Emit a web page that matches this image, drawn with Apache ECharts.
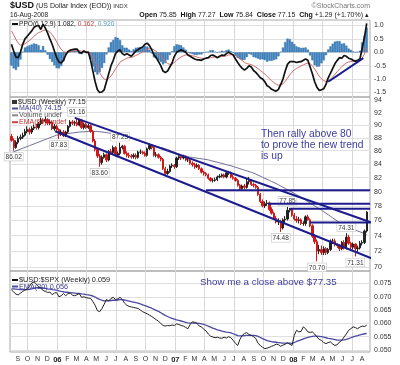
<!DOCTYPE html>
<html><head><meta charset="utf-8">
<script src="https://cdn.jsdelivr.net/npm/echarts@6/dist/echarts.min.js"></script>
<style>html,body{margin:0;padding:0;background:#fff}#c{width:400px;height:365px}</style>
</head><body><div id="c"></div>
<script>
// ---- weekly data, week 0 = 12-Aug-2005 ----
const closes = [87.6,86.5,87.3,87.9,88.1,88.4,89.0,89.3,88.9,89.5,
89.7,89.6,90.2,90.8,90.6,90.9,90.3,90.5,89.4,89.8,
89.3,88.6,88.9,88.3,88.9,89.8,90.5,90.3,90.4,90.0,
90.8,89.6,90.1,89.6,89.9,89.0,87.5,86.2,85.2,84.2,
85.0,85.4,84.6,85.9,85.7,86.5,85.3,85.6,86.5,86.7,
85.6,85.3,85.2,85.1,85.3,85.0,85.8,85.8,85.6,85.3,
86.3,86.8,86.5,85.3,85.4,85.0,84.7,83.3,82.6,82.9,
83.7,83.8,83.6,84.9,85.1,84.9,85.2,84.6,84.6,84.1,
83.9,83.6,83.8,83.3,82.8,82.6,82.4,81.9,81.6,81.6,
81.7,82.1,82.2,82.4,82.1,82.7,82.7,82.1,81.9,81.6,
80.9,80.4,80.8,80.6,81.4,81.6,81.0,80.9,80.6,79.6,
78.6,78.0,78.3,78.4,77.5,77.0,76.3,75.8,75.9,75.0,
76.1,76.2,77.4,77.5,76.7,76.2,76.0,76.1,75.6,75.6,
76.5,76.1,75.3,73.9,73.2,72.0,72.2,71.8,72.3,71.8,
72.2,73.3,73.3,72.8,72.7,72.3,73.1,72.4,73.8,73.0,
72.5,72.9,72.3,72.4,73.0,73.1,74.6,77.15];
const opens = [88.2,87.6,86.5,87.3,87.9,88.1,88.4,89.0,89.3,88.9,
89.5,89.7,89.6,90.2,90.8,90.6,90.9,90.3,90.5,89.4,
89.8,89.3,88.6,88.9,88.3,88.9,89.8,90.5,90.3,90.4,
90.0,90.8,89.6,90.1,89.6,89.9,89.0,87.5,86.2,85.2,
84.2,85.0,85.4,84.6,85.9,85.7,86.5,85.3,85.6,86.5,
86.7,85.6,85.3,85.2,85.1,85.3,85.0,85.8,85.8,85.6,
85.3,86.3,86.8,86.5,85.3,85.4,85.0,84.7,83.3,82.6,
82.9,83.7,83.8,83.6,84.9,85.1,84.9,85.2,84.6,84.6,
84.1,83.9,83.6,83.8,83.3,82.8,82.6,82.4,81.9,81.6,
81.6,81.7,82.1,82.2,82.4,82.1,82.7,82.7,82.1,81.9,
81.6,80.9,80.4,80.8,80.6,81.4,81.6,81.0,80.9,80.6,
79.6,78.6,78.0,78.3,78.4,77.5,77.0,76.3,75.8,75.9,
75.0,76.1,76.2,77.4,77.5,76.7,76.2,76.0,76.1,75.6,
75.6,76.5,76.1,75.3,73.9,73.2,72.0,72.2,71.8,72.3,
71.8,72.2,73.3,73.3,72.8,72.7,72.3,73.1,72.4,73.8,
73.0,72.5,72.9,72.3,72.4,73.0,73.1,74.6];
const highs = [88.6,87.9,87.6,88.3,88.5,88.8,89.4,89.8,89.6,89.8,
90.1,90.2,90.5,91.2,91.1,91.3,91.1,90.9,90.7,90.2,
90.1,89.5,89.3,89.2,89.1,90.0,90.8,90.8,90.7,91.16,
91.0,91.0,90.4,90.4,90.2,90.1,89.2,87.8,86.4,85.5,
85.3,85.7,85.6,86.1,86.3,86.8,86.7,85.9,87.23,86.9,
86.9,85.9,85.7,85.5,85.6,85.6,86.0,86.2,86.0,85.9,
86.5,87.1,87.0,86.7,85.8,85.6,85.2,84.9,83.6,83.3,
83.9,84.1,84.0,85.1,85.4,85.3,85.4,85.3,84.9,84.8,
84.4,84.2,84.1,84.0,83.5,83.0,82.8,82.6,82.1,81.9,
82.0,82.3,82.5,82.6,82.6,82.9,83.0,82.9,82.4,82.1,
81.8,81.1,81.0,81.1,81.9,82.1,81.8,81.3,81.1,80.8,
79.8,78.9,78.6,78.8,78.6,77.8,77.2,76.6,76.3,76.1,
76.3,76.6,77.85,77.7,77.7,77.0,76.6,76.5,76.3,75.9,
76.7,76.8,76.3,75.5,74.2,73.5,72.8,72.7,72.6,72.5,
72.4,73.5,73.6,73.6,73.0,72.9,73.3,73.4,74.31,74.1,
73.2,73.1,73.0,72.7,73.3,73.4,74.8,77.27];
const lows = [87.4,86.02,86.3,87.0,87.6,87.8,88.2,88.7,88.5,88.6,
89.2,89.3,89.3,90.0,90.2,90.3,90.0,90.0,89.2,89.1,
89.0,87.83,88.3,88.1,88.1,88.7,89.6,90.0,89.9,89.8,
89.8,89.4,89.3,89.4,89.4,88.8,87.3,85.9,84.9,83.60,
83.9,84.8,84.3,84.4,85.4,85.4,85.1,85.0,85.3,86.2,
85.4,85.0,84.9,84.8,84.8,84.7,84.8,85.5,85.4,85.1,
85.1,86.1,86.2,85.1,85.0,84.8,84.4,83.1,82.4,82.4,
82.7,83.4,83.3,83.4,84.6,84.6,84.7,84.4,84.3,83.9,
83.6,83.3,83.4,83.1,82.6,82.3,82.2,81.7,81.4,81.3,
81.4,81.5,81.9,82.0,81.9,81.9,82.4,81.9,81.7,81.4,
80.7,80.1,80.2,80.3,80.4,81.0,80.8,80.6,80.4,79.4,
78.4,77.8,77.7,78.0,77.3,76.8,76.1,75.6,75.4,74.48,
74.8,75.6,76.0,77.1,76.5,76.0,75.7,75.6,75.4,75.3,
75.3,76.0,75.1,73.7,72.9,70.70,71.6,71.5,71.5,71.5,
71.6,72.0,72.9,72.6,72.4,72.0,72.1,72.2,72.2,72.8,
72.2,72.2,71.31,71.9,72.2,72.7,72.9,74.4];
const ma40 = [85.7,85.83,85.97,86.1,86.24,86.38,86.51,86.65,86.78,86.92,
87.05,87.19,87.32,87.46,87.6,87.73,87.87,88.0,88.14,88.27,
88.4,88.45,88.5,88.55,88.6,88.65,88.7,88.75,88.8,88.85,
88.9,88.92,88.94,88.96,88.98,89.0,89.0,89.0,88.98,88.95,
88.9,88.85,88.8,88.74,88.68,88.63,88.58,88.53,88.4,88.3,
88.2,88.1,88.0,87.9,87.8,87.65,87.55,87.42,87.3,87.2,
87.1,87.0,86.9,86.8,86.7,86.6,86.5,86.43,86.3,86.2,
86.05,85.9,85.8,85.65,85.5,85.4,85.25,85.13,85.08,85.03,
84.98,84.93,84.88,84.83,84.78,84.73,84.67,84.62,84.53,84.44,
84.35,84.26,84.18,84.09,84.0,83.91,83.82,83.74,83.63,83.52,
83.42,83.31,83.2,83.1,82.99,82.88,82.78,82.67,82.52,82.36,
82.21,82.06,81.9,81.75,81.6,81.44,81.29,81.14,80.96,80.79,
80.61,80.44,80.26,80.09,79.91,79.74,79.56,79.39,79.19,78.99,
78.8,78.6,78.4,78.2,78.0,77.8,77.61,77.41,77.2,76.99,
76.78,76.56,76.35,76.14,75.93,75.72,75.5,75.29,75.18,75.06,
74.95,74.84,74.72,74.61,74.5,74.38,74.27,74.15];
const ppo = [0.30,0.05,-0.18,-0.20,0.00,0.30,0.50,0.60,0.70,0.80,
0.93,0.98,1.00,0.85,1.05,0.90,0.72,0.50,0.30,0.05,
-0.20,-0.36,-0.40,-0.30,-0.10,0.03,0.08,0.10,0.12,0.12,
0.00,-0.03,0.05,0.00,0.00,-0.30,-0.70,-1.10,-1.40,-1.50,
-1.48,-1.40,-1.10,-0.80,-0.50,-0.30,-0.05,0.05,0.09,-0.05,
-0.10,-0.05,-0.10,-0.15,-0.05,0.05,0.10,0.16,0.20,0.30,
0.34,0.25,0.10,-0.10,-0.20,-0.35,-0.50,-0.70,-0.75,-0.70,
-0.55,-0.40,-0.15,0.00,0.05,0.09,0.05,0.00,-0.10,-0.15,
-0.20,-0.25,-0.28,-0.28,-0.30,-0.25,-0.22,-0.20,-0.12,-0.10,
-0.15,-0.20,-0.15,-0.10,-0.12,-0.05,0.00,-0.05,-0.10,-0.25,
-0.38,-0.50,-0.60,-0.66,-0.60,-0.50,-0.55,-0.68,-0.75,-0.85,
-0.95,-1.00,-1.10,-1.25,-1.30,-1.38,-1.42,-1.45,-1.38,-1.20,
-1.00,-0.70,-0.45,-0.35,-0.35,-0.35,-0.38,-0.36,-0.35,-0.30,
-0.25,-0.30,-0.55,-0.80,-1.10,-1.30,-1.42,-1.40,-1.36,-1.20,
-0.95,-0.78,-0.60,-0.42,-0.30,-0.20,-0.22,-0.12,-0.15,-0.22,
-0.25,-0.30,-0.33,-0.30,-0.25,0.15,0.55,1.082];
const signal = [0.80,0.65,0.48,0.34,0.27,0.28,0.32,0.38,0.44,0.51,
0.60,0.67,0.74,0.76,0.82,0.83,0.81,0.75,0.66,0.54,
0.39,0.24,0.11,0.03,0.00,0.01,0.02,0.04,0.06,0.07,
0.06,0.04,0.04,0.03,0.02,-0.04,-0.17,-0.36,-0.57,-0.76,
-0.90,-1.00,-1.02,-0.98,-0.88,-0.76,-0.62,-0.49,-0.37,-0.31,
-0.27,-0.22,-0.20,-0.19,-0.16,-0.12,-0.08,-0.03,0.02,0.07,
0.13,0.15,0.14,0.09,0.03,-0.05,-0.14,-0.25,-0.35,-0.42,
-0.45,-0.44,-0.38,-0.30,-0.23,-0.17,-0.13,-0.10,-0.10,-0.11,
-0.13,-0.15,-0.18,-0.20,-0.22,-0.23,-0.23,-0.22,-0.20,-0.18,
-0.17,-0.18,-0.17,-0.16,-0.15,-0.13,-0.10,-0.09,-0.09,-0.12,
-0.17,-0.24,-0.31,-0.38,-0.42,-0.44,-0.46,-0.50,-0.55,-0.61,
-0.68,-0.74,-0.81,-0.90,-0.98,-1.06,-1.13,-1.19,-1.23,-1.22,
-1.18,-1.08,-0.96,-0.84,-0.74,-0.66,-0.60,-0.55,-0.51,-0.47,
-0.43,-0.40,-0.43,-0.50,-0.62,-0.76,-0.89,-0.99,-1.06,-1.09,
-1.06,-1.00,-0.92,-0.82,-0.72,-0.62,-0.54,-0.46,-0.40,-0.36,
-0.34,-0.33,-0.33,-0.32,-0.31,-0.22,-0.07,0.162];
const histo = [-0.50,-0.60,-0.66,-0.54,-0.27,0.02,0.18,0.22,0.26,0.29,
0.33,0.31,0.26,0.09,0.23,0.07,-0.09,-0.25,-0.36,-0.49,
-0.59,-0.60,-0.51,-0.33,-0.10,0.02,0.06,0.06,0.06,0.05,
-0.06,-0.07,0.01,-0.03,-0.02,-0.26,-0.53,-0.74,-0.83,-0.74,
-0.58,-0.40,-0.08,0.18,0.38,0.46,0.57,0.54,0.46,0.26,
0.17,0.17,0.10,0.04,0.11,0.17,0.18,0.19,0.18,0.23,
0.21,0.10,-0.04,-0.19,-0.23,-0.30,-0.36,-0.45,-0.40,-0.28,
-0.10,0.04,0.23,0.30,0.28,0.26,0.18,0.10,0.00,-0.04,
-0.07,-0.10,-0.10,-0.08,-0.08,-0.02,0.01,0.02,0.08,0.08,
0.02,-0.02,0.02,0.06,0.03,0.08,0.10,0.04,-0.01,-0.13,
-0.21,-0.26,-0.29,-0.28,-0.18,-0.06,-0.09,-0.18,-0.20,-0.24,
-0.27,-0.26,-0.29,-0.35,-0.32,-0.32,-0.29,-0.26,-0.15,0.02,
0.18,0.38,0.51,0.49,0.39,0.31,0.22,0.19,0.16,0.17,
0.18,0.10,-0.12,-0.30,-0.48,-0.54,-0.53,-0.41,-0.30,-0.11,
0.11,0.22,0.32,0.40,0.42,0.42,0.32,0.34,0.25,0.14,
0.09,0.03,0.00,0.02,0.06,0.37,0.62,0.920];
const ratio = [0.0726,0.0718,0.0710,0.0707,0.0714,0.0720,0.0726,0.0728,0.0740,0.0752,
0.0756,0.0748,0.0738,0.0732,0.0724,0.0720,0.0716,0.0718,0.0708,0.0714,
0.0716,0.0700,0.0704,0.0712,0.0704,0.0712,0.0714,0.0706,0.0704,0.0708,
0.0712,0.0698,0.0700,0.0697,0.0695,0.0694,0.0682,0.0668,0.0648,0.0644,
0.0656,0.0672,0.0690,0.0684,0.0694,0.0698,0.0690,0.0692,0.0698,0.0690,
0.0676,0.0668,0.0664,0.0662,0.0660,0.0658,0.0656,0.0650,0.0644,0.0640,
0.0636,0.0631,0.0626,0.0620,0.0614,0.0608,0.0600,0.0592,0.0590,0.0592,
0.0591,0.0594,0.0592,0.0598,0.0596,0.0592,0.0590,0.0585,0.0580,0.0596,
0.0606,0.0604,0.0600,0.0590,0.0587,0.0578,0.0572,0.0560,0.0552,0.0549,
0.0546,0.0548,0.0545,0.0544,0.0548,0.0545,0.0550,0.0546,0.0536,0.0525,
0.0517,0.0540,0.0555,0.0562,0.0565,0.0558,0.0555,0.0550,0.0543,0.0525,
0.0517,0.0510,0.0505,0.0507,0.0510,0.0514,0.0517,0.0522,0.0520,0.0514,
0.0518,0.0522,0.0527,0.0522,0.0517,0.0555,0.0574,0.0568,0.0570,0.0587,
0.0580,0.0568,0.0566,0.0568,0.0560,0.0549,0.0540,0.0536,0.0528,0.0524,
0.0528,0.0530,0.0522,0.0517,0.0520,0.0530,0.0536,0.0549,0.0560,0.0574,
0.0580,0.0587,0.0584,0.0580,0.0586,0.0590,0.0588,0.0593];
const ratioEma = [0.0730,0.0730,0.0729,0.0728,0.0727,0.0727,0.0727,0.0727,0.0728,0.0730,
0.0732,0.0734,0.0734,0.0734,0.0733,0.0732,0.0730,0.0729,0.0727,0.0726,
0.0725,0.0722,0.0720,0.0719,0.0717,0.0717,0.0716,0.0715,0.0714,0.0713,
0.0713,0.0711,0.0710,0.0708,0.0707,0.0705,0.0703,0.0699,0.0694,0.0690,
0.0687,0.0685,0.0685,0.0685,0.0686,0.0687,0.0687,0.0688,0.0689,0.0689,
0.0688,0.0686,0.0684,0.0682,0.0680,0.0678,0.0676,0.0673,0.0670,0.0667,
0.0664,0.0660,0.0657,0.0653,0.0649,0.0645,0.0640,0.0635,0.0630,0.0626,
0.0622,0.0619,0.0616,0.0613,0.0611,0.0609,0.0607,0.0604,0.0602,0.0601,
0.0601,0.0601,0.0601,0.0600,0.0598,0.0596,0.0593,0.0590,0.0586,0.0582,
0.0579,0.0576,0.0574,0.0571,0.0569,0.0567,0.0566,0.0564,0.0561,0.0558,
0.0554,0.0553,0.0553,0.0554,0.0555,0.0555,0.0555,0.0555,0.0554,0.0551,
0.0547,0.0543,0.0539,0.0535,0.0533,0.0531,0.0530,0.0529,0.0528,0.0527,
0.0526,0.0526,0.0526,0.0526,0.0525,0.0528,0.0532,0.0535,0.0538,0.0542,
0.0545,0.0547,0.0549,0.0551,0.0552,0.0552,0.0551,0.0550,0.0548,0.0546,
0.0544,0.0543,0.0541,0.0539,0.0537,0.0537,0.0537,0.0538,0.0540,0.0543,
0.0546,0.0549,0.0552,0.0554,0.0557,0.0559,0.0561,0.0562];
// tick labels
const ppoTicks = [-1.5,-1.0,-0.5,0.0,0.5,1.0];
const priceTicks = [70,72,74,76,78,80,82,84,86,88,90,92,94];
const ratioTicks = [0.050,0.055,0.060,0.065,0.070,0.075];
// hand-drawn annotations: [weekIndex, value]
const upperChannel = [[28,91.16],[171.7,74.4]];
const lowerChannel = [[19.3,89.02],[159.8,71.01]];
const hLines = [[[86,80.2],[158.5,80.2]],[[113.4,78.3],[158.5,78.3]],[[123,77.6],[158.5,77.6]],[[132,75.75],[158.5,75.75]]];
const ppoTrend = [[140,-1.10],[155.5,-0.22]];
const priceMarks = [[1,86.02,'b'],[21,87.83,'b'],[29,91.16,'t'],[39,83.60,'b'],[48,87.23,'t'],[119,74.48,'b'],[122,77.85,'t'],[148,74.31,'t'],[135,70.70,'b'],[152,71.31,'b']];

const DAY = 864e5, start = Date.UTC(2005,7,12);
const t = i => start + i*7*DAY;
const L = Math.log;
const FONT = '"Liberation Sans", Arial, sans-serif';
const xMin = t(-0.62), xMax = t(158.46);
const months = [], quarters = [];
for (let y=2005; y<=2008; y++) for (let m=0; m<12; m++) {
  const v = Date.UTC(y,m,1);
  if (v>xMin && v<xMax) { months.push(v); if (m%3===0) quarters.push(v); }
}
const grids = [
  {left:10, top:20, width:360, height:77},
  {left:10, top:97, width:360, height:174},
  {left:10, top:271, width:360, height:81}
].map(g=>Object.assign(g,{show:true, borderColor:'#a8a8a8', borderWidth:1, containLabel:false}));
const xAxes = [0,1,2].map(k=>({
  type:'value', gridIndex:k, min:xMin, max:xMax, scale:true,
  axisLine:{show:false},
  axisTick:{show:false, customValues:quarters},
  splitLine:{show:true, lineStyle:{color:'#d8d8d8', width:1}},
  axisLabel: k===2 ? {show:true, customValues:months, fontSize:7, color:'#333', fontFamily:FONT, margin:4,
    formatter:v=>{const d=new Date(v), m=d.getUTCMonth(); return m===0?'{y|'+String(d.getUTCFullYear()).slice(2)+'}':'JFMAMJJASOND'[m];},
    rich:{y:{fontWeight:'bold', fontSize:7.5, fontFamily:FONT, color:'#222'}}} : {show:false}
}));
const yBase = (k, min, max, ticks, fmt)=>({
  type:'value', gridIndex:k, position:'right', min, max, scale:true,
  axisLine:{show:false}, axisTick:{show:false, customValues:ticks},
  splitLine:{show:true, lineStyle:{color:'#e0e0e0'}},
  axisLabel:{show:true, customValues:ticks, formatter:fmt, fontSize:7, color:'#333', fontFamily:FONT, margin:4}
});
const yAxes = [
  yBase(0, -1.668, 1.205, ppoTicks, v=>v.toFixed(1)),
  yBase(1, L(69.5), L(94.59), priceTicks.map(L), v=>String(Math.round(Math.exp(v)))),
  yBase(2, 0.04924, 0.0797, ratioTicks, v=>v.toFixed(3))
];
const pair = (arr, f) => arr.map((v,i)=>[t(i), f? f(v):v]);
const trend = (pts, xi, yi, color, w, logy) => ({
  type:'line', xAxisIndex:xi, yAxisIndex:yi, clip:false, silent:true, symbol:'none',
  lineStyle:{color, width:w}, data: pts.map(p=>[t(p[0]), logy?L(p[1]):p[1]]), z:5
});
const candles = closes.map((c,i)=>[t(i), L(opens[i]), L(c), L(lows[i]), L(highs[i])]);
const markData = priceMarks.map(m=>({
  coord:[t(m[0]), L(m[1])], value:m[1].toFixed(2),
  label:{position: m[2]==='b'?'bottom':'top', distance:2}
}));
const series = [
  {type:'bar', xAxisIndex:0, yAxisIndex:0, data:pair(histo), barWidth:2.2,
   itemStyle:{color:'#3f86c6', borderColor:'#2f6aa0', borderWidth:0.4}, silent:true},
  {type:'line', xAxisIndex:0, yAxisIndex:0, data:pair(signal), symbol:'none', lineStyle:{color:'#cf6a6a', width:1}, silent:true},
  {type:'line', xAxisIndex:0, yAxisIndex:0, data:pair(ppo), symbol:'none', lineStyle:{color:'#111', width:1.7}, silent:true},
  trend(ppoTrend, 0, 0, '#1c1c8e', 2, false),
  {type:'line', xAxisIndex:1, yAxisIndex:1, data:pair(ma40, L), symbol:'none', lineStyle:{color:'#6c6c96', width:1}, silent:true,
   markPoint:{symbol:'rect', symbolSize:0, data:markData,
     label:{show:true, formatter:p=>p.value, fontSize:6.5, color:'#333', fontFamily:FONT, backgroundColor:'#fff', borderColor:'#c4c4c4', borderWidth:0.6, padding:[1,1,0,1]}}},
  {type:'candlestick', xAxisIndex:1, yAxisIndex:1, data:candles, encode:{x:0, y:[1,2,3,4]}, barWidth:1.8,
   itemStyle:{color:'#222', color0:'#d01818', borderColor:'#222', borderColor0:'#d01818', borderWidth:1}, silent:true, z:3},
  trend(upperChannel, 1, 1, '#1c1c8e', 2, true),
  trend(lowerChannel, 1, 1, '#1c1c8e', 2, true),
  ...hLines.map(h=>trend(h, 1, 1, '#1c1c8e', 2, true)),
  {type:'line', xAxisIndex:2, yAxisIndex:2, data:pair(ratioEma), symbol:'none', lineStyle:{color:'#4a4aa2', width:1.3}, silent:true},
  {type:'line', xAxisIndex:2, yAxisIndex:2, data:pair(ratio), symbol:'none', lineStyle:{color:'#222', width:1}, silent:true}
];
const F = (s, w)=> (w?w+' ':'')+s+'px '+FONT;
const txt = (x,y,text,opts)=>({type:'text', x, y, silent:true, z:20,
  style:Object.assign({text, font:F(7), fill:'#222', textVerticalAlign:'middle'}, opts||{})});
const sw = (x,y,color)=>({type:'rect', shape:{x, y:y-1, width:6, height:2}, style:{fill:color}, silent:true, z:20});
const graphic = [
  txt(10,6,'{a|$USD} {b|(US Dollar Index (EOD))} {c|INDX}', {rich:{a:{font:F(9,'bold'), fill:'#111'}, b:{font:F(7), fill:'#222'}, c:{font:F(6), fill:'#333'}}}),
  txt(10,15,'16-Aug-2008', {font:F(6.6)}),
  txt(370,6,'\u00A9StockCharts.com', {font:F(7), fill:'#777', textAlign:'right'}),
  txt(369,15,'{k|Open} 75.85  {k|High} 77.27  {k|Low} 75.84  {k|Close} 77.15  {k|Chg} +1.29 (+1.70%) \u25B4',
    {textAlign:'right', font:F(7), rich:{k:{font:F(7,'bold'), fill:'#111'}}}),
  sw(12,24,'#111'),
  txt(19,24,'PPO(6,12,9) 1.082, {r|0.162,} {g|0.920}', {font:F(6.6), rich:{r:{fill:'#c04848', font:F(6.6)}, g:{fill:'#4fa0b8', font:F(6.6)}}}),
  {type:'rect', shape:{x:12, y:100, width:5, height:4}, style:{fill:'#333'}, silent:true, z:20},
  txt(18,102,'$USD (Weekly) 77.15'),
  sw(12,108.5,'#4a4a9a'), txt(19,108.5,'MA(40) 74.15', {fill:'#3a3a90'}),
  sw(12,115.3,'#888'), txt(19,115.3,'Volume undef', {fill:'#555'}),
  sw(12,122.2,'#d04040'), txt(19,122.2,'EMA(60) undef', {fill:'#c83030'}),
  sw(12,280,'#111'), txt(19,280,'$USD:$SPX (Weekly) 0.059', {font:F(7.3)}),
  sw(12,286.5,'#4a4aa2'), txt(19,286.5,'EMA(20) 0.056', {fill:'#3a3a90', font:F(7.3)}),
  {type:'text', x:261, y:129, silent:true, z:20, style:{text:'Then rally above 80\nto prove the new trend\nis up', font:F(10.3), fill:'#3c3ca0', lineHeight:10.7}},
  txt(200,282.5,'Show me a close above $77.35', {font:F(9.8), fill:'#3c3ca0'})
];
const chart = echarts.init(document.getElementById('c'), null, {renderer:'canvas'});
chart.setOption({animation:false, backgroundColor:'#fff', grid:grids, xAxis:xAxes, yAxis:yAxes, series, graphic, tooltip:{show:false}});
</script></body></html>
